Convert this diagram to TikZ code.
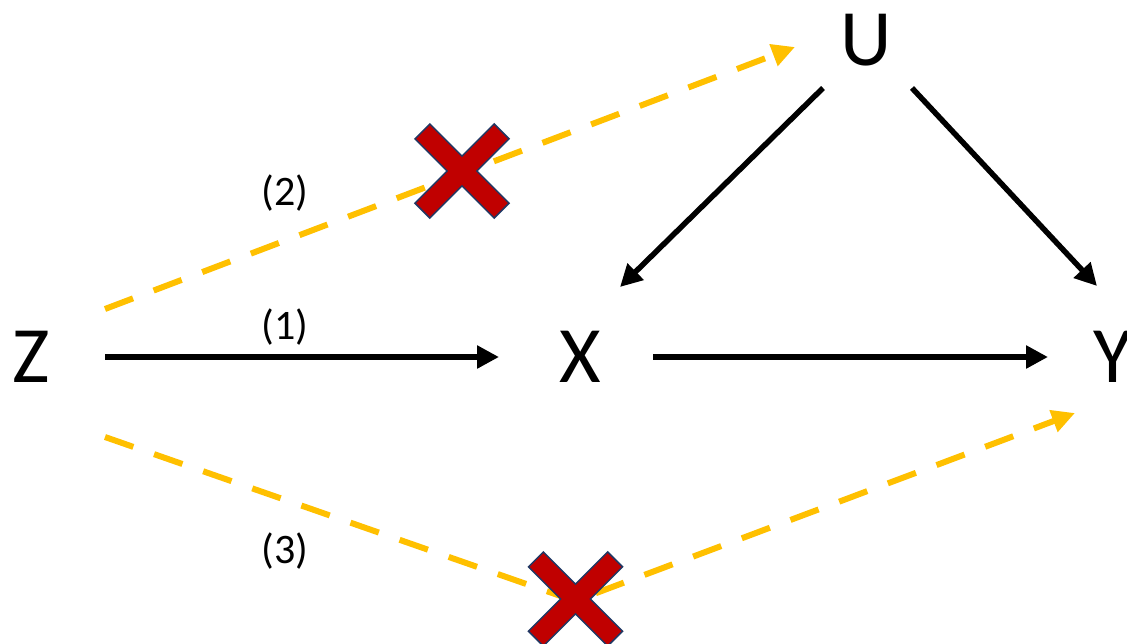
\documentclass[tikz,border=0pt]{standalone}
\usepackage{fontspec}
\setmainfont{Carlito}
\usetikzlibrary{arrows.meta,calc}
\definecolor{gold}{HTML}{FFC000}
\definecolor{xred}{HTML}{C00000}
\definecolor{xnavy}{HTML}{203864}
\tikzset{
  var/.style={inner sep=0pt, font=\fontsize{80}{80}\selectfont},
  lbl/.style={inner sep=0pt, font=\fontsize{42}{42}\selectfont},
  blk/.style={line width=5.5pt, draw=black, -{Triangle[length=22pt,width=22pt]}},
  ylw/.style={line width=6pt, draw=gold, dash pattern=on 30pt off 22pt, -{Triangle[length=23pt,width=22pt]}},
  xmark/.style={fill=xred, draw=xnavy, line width=1.5pt, line join=miter},
}
\begin{document}
\begin{tikzpicture}[x=1pt,y=-1pt]
\useasboundingbox (0,0) rectangle (1127,643);
\node[var] (Z) at (31,357) {Z};
\node[var] (X) at (580,357) {X};
\node[var] (Y) at (1113,357) {Y};
\node[var] (U) at (866,40) {U};
\node[lbl] (l1) at (285,327) {(1)};
\node[lbl] (l2) at (285,193) {(2)};
\node[lbl] (l3) at (285,551) {(3)};
% black arrows
\draw[blk] ($(Z)+(74,0)$) -- ($(X)+(-81,0)$);
\draw[blk] ($(X)+(73,0)$) -- ($(Y)+(-65,0)$);
\draw[blk] ($(U)+(-43,48)$) -- ($(X)+(40,-70)$);
\draw[blk] ($(U)+(46,48)$) -- ($(Y)+(-16,-71)$);
% yellow dashed arrows
\draw[ylw] ($(Z)+(74,-48)$) -- ($(U)+(-71,7)$);
\coordinate (bend) at (575,601);
\draw[ylw] ($(Z)+(74,80)$) -- (bend) -- ($(Y)+(-38,56)$);
% crosses
\foreach \cx/\cy in {462/171, 575.5/599}{
  \draw[xmark, shift={(\cx,\cy)}, rotate=45]
    (-10.5,-56) -- (10.5,-56) -- (10.5,-10.5) -- (56,-10.5) -- (56,10.5) -- (10.5,10.5)
    -- (10.5,56) -- (-10.5,56) -- (-10.5,10.5) -- (-56,10.5) -- (-56,-10.5) -- (-10.5,-10.5) -- cycle;
}
\end{tikzpicture}
\end{document}
